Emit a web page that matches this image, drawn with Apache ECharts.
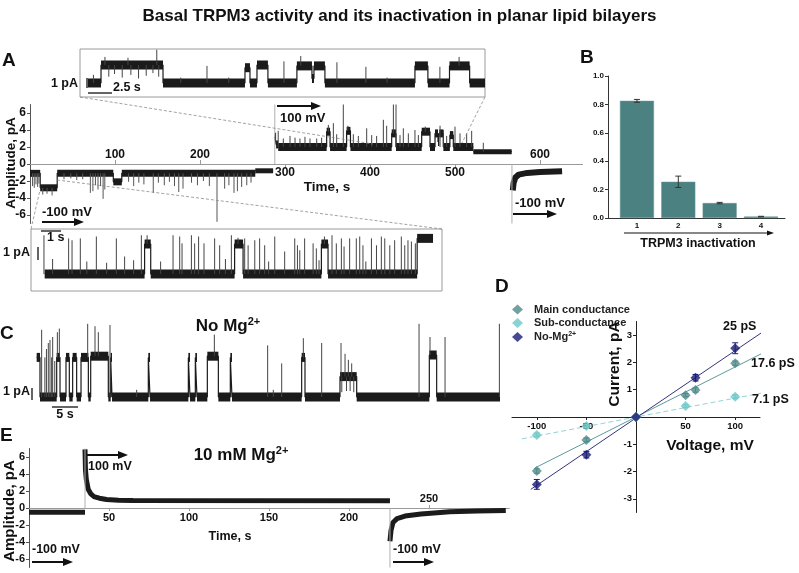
<!DOCTYPE html>
<html><head><meta charset="utf-8">
<script src="https://cdn.jsdelivr.net/npm/echarts@6/dist/echarts.min.js"></script>
<style>html,body{margin:0;padding:0;background:#fff}#c{width:799px;height:573px}</style>
</head><body><div id="c"></div>
<script>
// ================= DATA =================
// Panel A – main recording (time s, current pA)
const aTicksBelow = [300, 400, 500];
const aTicksAbove = [100, 200, 600];
const aYTicks = [-6, -4, -2, 0, 2, 4, 6];
const aNegSteps = [[0,-1.1],[12,-2.8],[32,-1.1],[98,-2.1],[108,-1.1],[265,-1.1]];
const aNegQuietSteps = [[265,-0.8],[286,-0.8]];
const aNegSpikes = [
 [3,-1.1,-2.6],[5,-1.1,-2.8],[7,-1.1,-2.4],[9,-1.1,-2.7],[10.5,-1.1,-2.3],
 [15,-2.8,-3.6],[20,-2.8,-3.5],[26,-2.8,-3.7],
 [40,-1.1,-1.8],[48,-1.1,-1.7],[55,-1.1,-1.9],[62,-1.1,-1.8],
 [71,-1.1,-3.4],[74,-1.1,-3.2],[77,-1.1,-2.5],[80,-1.1,-3.0],[83,-1.1,-2.6],[86,-1.1,-4.1],[88,-1.1,-3.0],
 [116,-1.1,-2.1],[122,-1.1,-2.6],[128,-1.1,-2.2],[134,-1.1,-2.4],[145,-1.1,-3.4],
 [151,-1.1,-2.2],[158,-1.1,-2.5],[164,-1.1,-2.1],[170,-1.1,-2.6],[175,-1.1,-3.3],[180,-1.1,-2.9],
 [190,-1.1,-2.2],[197,-1.1,-2.5],[204,-1.1,-2.0],[211,-1.1,-2.6],[220,-1.1,-6.8],
 [229,-1.1,-2.9],[234,-1.1,-2.5],[240,-1.1,-3.4],[244,-1.1,-3.2],[249,-1.1,-2.7],[255,-1.1,-2.5],[260,-1.1,-2.2]
];
const aPosSteps = [[288,3.2],[289.5,2.3],[292,2.0],[349,3.8],[353,2.0],[372.5,3.9],[377,2.0],[425.5,3.6],
 [430.6,2.0],[460.8,3.8],[470.6,2.0],[476.5,3.6],[480,2.6],[481.5,3.6],[486.3,2.0],[494,3.4],[498,2.0],[521.6,2.0]];
const aPosQuietSteps = [[521.6,1.45],[566.7,1.45]];
const aPosSpikes = [
 [292,2.0,3.9],[298,2.0,3.0],[305.9,2.0,3.3],[311.8,2.0,3.1],[317.6,2.0,3.0],[323.5,2.0,3.2],[329.4,2.0,3.0],
 [337.3,2.0,3.0],[343.1,2.0,3.1],[351,3.8,4.6],[356.9,2.0,4.8],[360.8,2.0,3.5],[368.6,2.0,7.0],[374,3.9,4.5],
 [380.4,2.0,3.5],[386.3,2.0,3.3],[396.1,2.0,4.2],[402,2.0,3.4],[407.8,2.0,3.3],[415.7,2.0,5.2],[419.6,2.0,4.5],
 [427.5,3.6,7.0],[430.6,2.0,7.0],[435.3,2.0,3.4],[439.2,2.0,4.2],[445.1,2.0,3.6],[452.9,2.0,4.0],[456.9,2.0,3.4],
 [465,3.8,4.4],[482.4,2.0,4.5],[486.3,2.0,4.0],[490.2,2.0,3.3],[500,2.0,4.4],[505.9,2.0,3.6],[513.7,2.0,3.6],
 [519.6,2.0,3.9],[533.3,1.45,2.5]
];
const aNeg2Curve = [[568,-3.1],[569,-2.2],[571,-1.6],[575,-1.25],[585,-1.05],[600,-0.95],[626,-0.85]];
const aSwitchLines = [[288,0,7],[567,-7,0]];

// Panel A – upper inset (s, pA)
const topSteps = [[0.83,0],[2.19,2.0],[8.65,0],[17.19,1.7],[17.71,0],[18.44,2.0],[19.58,0],[22.6,1.9],[24.17,0.5],
 [24.38,1.9],[25.52,0],[34.9,1.9],[36.25,0],[38.5,1.9],[40.6,0],[42.2,0]];
const topSpikes = [[1.4,0,0.9],[2.6,2,2.9],[3.0,2,0.7],[3.6,2,1.0],[4.4,2,0.6],[5.0,2,2.8],[5.3,2,0.9],[6.1,2,0.5],
 [6.9,2,0.8],[7.6,2,1.1],[8.0,2,3.7],[8.2,2,0.7],[10.5,0,0.6],[13.23,0,1.9],[15.5,0,0.6],[21.25,0,2.4],[23.0,1.9,3.0],
 [26.77,0,2.3],[29.79,0,1.8],[32.0,0,0.6],[37.5,0,1.8],[39.5,1.9,2.9]];

// Panel A – lower inset (s, pA)
const lowSteps = [[0.76,0],[6.31,2.4],[6.65,0],[11.31,2.4],[11.78,0],[16.13,2.4],[16.5,0],[21.45,2.85],[22.33,2.85]];
const lowSpikes = [
 [0.72,0,3.1],[2.09,0,2.85],[2.28,0,2.7],[2.74,0,2.85],[3.63,0,3.0],[4.74,0,2.85],[5.20,0,1.4],[6.13,0,3.1],
 [7.89,0,3.1],[8.26,0,3.0],[8.39,0,2.45],[8.91,0,3.1],[9.09,0,2.45],[9.31,0,3.0],[9.61,0,2.45],[10.20,0,2.85],
 [10.48,0,2.3],[11.13,0,3.1],[11.87,0,2.85],[12.06,0,2.3],[12.43,0,2.7],[12.70,0,2.85],[12.98,0,2.3],[13.54,0,3.0],
 [14.09,0,1.8],[14.65,0,2.85],[14.80,0,2.3],[14.93,0,1.9],[15.20,0,2.85],[15.67,0,2.45],[15.85,0,2.05],
 [16.72,0,3.1],[16.96,0,2.45],[17.24,0,2.85],[17.39,0,2.2],[17.70,0,2.85],[18.07,0,2.85],[18.26,0,3.0],[18.44,0,2.3],
 [18.91,0,2.85],[19.19,0,2.3],[19.46,0,3.0],[19.65,0,2.85],[19.93,0,2.3],[20.20,0,2.7],[20.57,0,3.0],[20.76,0,2.3],
 [20.94,0,2.7],[21.13,0,2.6],[21.35,0,2.45],[6.45,2.4,3.1],[11.5,2.4,2.9],[16.3,2.4,3.0],
 [1.2,0,1.2],[3.1,0,1.0],[4.2,0,0.9],[5.7,0,1.1],[7.2,0,1.0],[10.8,0,1.2],[13.2,0,1.0],[16.0,0,1.1],[18.6,0,1.0]
];

// Panel B – TRPM3 inactivation
const bCats = [1, 2, 3, 4];
const bVals = [0.825, 0.255, 0.105, 0.01];
const bErr = [0.01, 0.04, 0.005, 0.002];
const bYTicks = [0, 0.2, 0.4, 0.6, 0.8, 1.0];

// Panel C – No Mg2+ (s, pA)
const cSteps = [[0.32,3.3],[0.96,0],[4.17,3.3],[4.81,0],[5.96,3.3],[6.6,0],[7.24,3.3],[8.01,0],[8.85,3.3],[10.26,0],
 [10.71,3.4],[14.1,0],[14.55,3.3],[14.81,0],[21.79,3.3],[22.12,0],[29.49,3.3],[29.81,0],[30.83,3.3],[31.15,0],
 [33.14,3.4],[35.26,0],[37.56,3.3],[37.88,0],[51.28,3.3],[51.92,0],[58.65,1.7],[61.86,0],[75.83,3.5],[77.24,0],[89.42,0]];
const cSpikes = [[1.28,0,5.6],[1.9,0,3.3],[2.2,0,4.0],[2.56,0,4.5],[2.88,0,4.75],[3.2,0,3.3],[3.4,0,5.0],[3.8,0,3.0],
 [4.30,3.3,5.4],[4.68,3.3,5.7],[10.13,3.3,6.1],[11.54,3.4,5.9],[12.18,3.4,5.4],[14.42,0,6.0],[19.55,0,0.6],
 [34.49,3.4,5.2],[44.74,0,4.3],[45.83,0,0.6],[47.44,0,2.8],[51.6,3.3,4.9],[55.13,0,4.5],[58.85,1.7,4.5],
 [59.0,1.7,0.4],[59.62,1.7,3.6],[59.9,1.7,0.5],[60.26,1.7,3.1],[60.6,1.7,0.5],[60.9,1.7,2.8],[61.3,1.7,0.4],
 [73.85,0,6.1],[75.96,3.5,5.0],[78.85,0,5.0],[89.3,0,6.1]];

// Panel D – I/V relations (mV, pA)
const mainV = [-100, -50, 0, 50, 60, 100];
const mainI = [-1.98, -0.84, 0, 0.8, 0.99, 1.97];
const mainE = [0.08, 0.07, 0, 0.06, 0.08, 0.08];
const subV = [-100, -50, 0, 50, 100];
const subI = [-0.66, -0.33, 0, 0.40, 0.74];
const subE = [0.07, 0.06, 0, 0.05, 0.07];
const noMgV = [-100, -50, 0, 60, 100];
const noMgI = [-2.47, -1.38, 0, 1.44, 2.52];
const noMgE = [0.18, 0.12, 0, 0.12, 0.2];
const mainFit = [[-102,-1.87],[127,2.33]];
const subFit = [[-115,-0.8],[127,0.88]];
const noMgFit = [[-106,-2.65],[127,3.1]];
const dXTicks = [-100, -50, 50, 100];
const dYTicks = [-3, -2, -1, 1, 2, 3];
const dNames = ['Main conductance', 'Sub-conductance', 'No-Mg2+'];
const dFitLabels = ['25 pS', '17.6 pS', '7.1 pS'];

// Panel E – 10 mM Mg2+ (s, pA)
const eTicksBelow = [50, 100, 150, 200];
const eTicksAbove = [250];
const eYTicks = [-6, -4, -2, 0, 2, 4, 6];
const eNeg1 = [[0,-0.5],[35,-0.5]];
const ePos = [[35,6.9],[35.3,4.5],[35.8,3.4],[37,2.2],[38.5,1.7],[40.5,1.35],[44,1.15],[48.5,1.0],[56,0.92],[65,0.87],[225.6,0.85]];
const eNeg2 = [[225.6,-3.9],[226.3,-2.6],[227.5,-1.7],[230,-1.25],[235,-0.95],[245,-0.7],[263,-0.45],[280,-0.35],[298,-0.3]];
const eSwitchLines = [[35,0,7],[225.6,-7,0]];

// ================= CHART =================
const FONT = "'Liberation Sans', Arial, Helvetica, sans-serif";
const TRACE = '#1b1b1b';
const chart = echarts.init(document.getElementById('c'), null, {renderer: 'canvas'});

const segmentsOf = s => s.slice(0, -1).map((p, i) => [p[0], s[i + 1][0], p[1]]);

function stepSeries(xi, yi, steps, band) {
  return [
    {type: 'line', xAxisIndex: xi, yAxisIndex: yi, data: steps, step: 'end', symbol: 'none', silent: true, z: 3,
     lineStyle: {color: TRACE, width: 1.2}},
    {type: 'custom', xAxisIndex: xi, yAxisIndex: yi, data: segmentsOf(steps), encode: {x: [0, 1], y: 2}, silent: true, z: 3,
     renderItem: (p, api) => {
       const a = api.coord([api.value(0), api.value(2)]), b = api.coord([api.value(1), api.value(2)]);
       return {type: 'rect', shape: {x: a[0], y: a[1] - band / 2, width: Math.max(b[0] - a[0], 0.6), height: band}, style: {fill: TRACE}};
     }}
  ];
}
function vlineSeries(xi, yi, items, color, w, cap) {
  return {type: 'custom', xAxisIndex: xi, yAxisIndex: yi, data: items, encode: {x: 0, y: [1, 2]}, silent: true, z: 4,
    renderItem: (p, api) => {
      const a = api.coord([api.value(0), api.value(1)]), b = api.coord([api.value(0), api.value(2)]);
      const ch = [{type: 'line', shape: {x1: a[0], y1: a[1], x2: b[0], y2: b[1]}, style: {stroke: color, lineWidth: w}}];
      if (cap) {
        ch.push({type: 'line', shape: {x1: a[0] - cap, y1: a[1], x2: a[0] + cap, y2: a[1]}, style: {stroke: color, lineWidth: w}});
        ch.push({type: 'line', shape: {x1: b[0] - cap, y1: b[1], x2: b[0] + cap, y2: b[1]}, style: {stroke: color, lineWidth: w}});
      }
      return {type: 'group', children: ch};
    }};
}
function curveSeries(xi, yi, pts, w) {
  return {type: 'line', xAxisIndex: xi, yAxisIndex: yi, data: pts, symbol: 'none', silent: true, z: 3,
    lineStyle: {color: TRACE, width: w, join: 'round'}};
}

const lblStyle = (size, extra) => Object.assign({fontSize: size, fontWeight: 'bold', color: '#111', fontFamily: FONT}, extra || {});
const hiddenX = (gi, min, max) => ({type: 'value', gridIndex: gi, min, max, show: false, splitLine: {show: false}});
const hiddenY = (gi, min, max) => ({type: 'value', gridIndex: gi, min, max, show: false, splitLine: {show: false}});

const gridBase = {containLabel: false, outerBoundsMode: 'none'};
const grids = [
  Object.assign({left: 30, top: 104.5, width: 552.5, height: 119}, gridBase),                                        // 0 A main
  Object.assign({left: 80, top: 49, width: 405, height: 48, show: true, borderColor: '#9a9a9a', borderWidth: 1, backgroundColor: 'transparent'}, gridBase), // 1 A top inset
  Object.assign({left: 31, top: 229, width: 411, height: 62, show: true, borderColor: '#9a9a9a', borderWidth: 1, backgroundColor: 'transparent'}, gridBase), // 2 A low inset
  Object.assign({left: 608, top: 76, width: 177, height: 142}, gridBase),                                           // 3 B
  Object.assign({left: 35, top: 322, width: 465, height: 88.2}, gridBase),                                          // 4 C
  Object.assign({left: 512, top: 321.5, width: 248, height: 191}, gridBase),                                        // 5 D
  Object.assign({left: 29, top: 448.5, width: 480, height: 119}, gridBase)                                          // 6 E
];

// axes placed on the zero line through offsets (grid edge -> zero line)
const xAxes = [
  // 0,1: A main (zero line 59.5 px inside from both edges)
  {type: 'value', gridIndex: 0, min: 0, max: 650, position: 'bottom', offset: -59.5, splitLine: {show: false},
   axisLine: {onZero: false, lineStyle: {color: '#9a9a9a', width: 1}},
   axisTick: {customValues: aTicksBelow, length: 4, lineStyle: {color: '#9a9a9a'}},
   axisLabel: Object.assign({customValues: aTicksBelow, margin: 3}, lblStyle(12))},
  {type: 'value', gridIndex: 0, min: 0, max: 650, position: 'top', offset: -59.5, splitLine: {show: false},
   axisLine: {onZero: false, lineStyle: {color: '#9a9a9a', width: 1}},
   axisTick: {customValues: aTicksAbove, length: 4, lineStyle: {color: '#9a9a9a'}},
   axisLabel: Object.assign({customValues: aTicksAbove, margin: 3}, lblStyle(12))},
  // 2: top inset, 3: low inset
  hiddenX(1, 0, 42.2),
  hiddenX(2, 0, 22.83),
  // 4: B
  {type: 'value', gridIndex: 3, min: 0.3, max: 4.58, splitLine: {show: false},
   axisLine: {onZero: false, lineStyle: {color: '#333'}}, axisTick: {show: false},
   axisLabel: Object.assign({customValues: bCats, margin: 4}, lblStyle(8))},
  // 5: C
  hiddenX(4, 0, 89.42),
  // 6: D
  {type: 'value', gridIndex: 5, min: -125, max: 125, position: 'bottom', offset: -95.5, splitLine: {show: false},
   axisLine: {onZero: false, lineStyle: {color: '#222'}},
   axisTick: {customValues: dXTicks, length: 3, lineStyle: {color: '#222'}},
   axisLabel: Object.assign({customValues: dXTicks, margin: 4}, lblStyle(9.5))},
  // 7,8: E
  {type: 'value', gridIndex: 6, min: 0, max: 300, position: 'bottom', offset: -59.5, splitLine: {show: false},
   axisLine: {onZero: false, lineStyle: {color: '#9a9a9a'}},
   axisTick: {customValues: eTicksBelow, length: 3, lineStyle: {color: '#9a9a9a'}},
   axisLabel: Object.assign({customValues: eTicksBelow, margin: 4}, lblStyle(11))},
  {type: 'value', gridIndex: 6, min: 0, max: 300, position: 'top', offset: -59.5, splitLine: {show: false},
   axisLine: {onZero: false, lineStyle: {color: '#9a9a9a'}},
   axisTick: {customValues: eTicksAbove, length: 3, lineStyle: {color: '#9a9a9a'}},
   axisLabel: Object.assign({customValues: eTicksAbove, margin: 4}, lblStyle(11))}
];

const yAxes = [
  {type: 'value', gridIndex: 0, min: -7, max: 7, splitLine: {show: false},
   axisLine: {onZero: false, lineStyle: {color: '#555'}},
   axisTick: {customValues: aYTicks, length: 3, lineStyle: {color: '#555'}},
   axisLabel: Object.assign({customValues: aYTicks, margin: 4}, lblStyle(12))},
  hiddenY(1, -1.56, 3.78),
  hiddenY(2, -1.36, 3.6),
  {type: 'value', gridIndex: 3, min: 0, max: 1, splitLine: {show: false},
   axisLine: {show: true, onZero: false, lineStyle: {color: '#333'}},
   axisTick: {show: true, customValues: bYTicks, length: 3, lineStyle: {color: '#333'}},
   axisLabel: Object.assign({customValues: bYTicks, margin: 4, formatter: v => Number(v).toFixed(1)}, lblStyle(8))},
  hiddenY(4, -1.1, 6.25),
  {type: 'value', gridIndex: 5, min: -3.5, max: 3.5, position: 'left', offset: -124, splitLine: {show: false},
   axisLine: {onZero: false, lineStyle: {color: '#222'}},
   axisTick: {customValues: dYTicks, length: 3, lineStyle: {color: '#222'}},
   axisLabel: Object.assign({customValues: dYTicks, margin: 4}, lblStyle(9.5))},
  {type: 'value', gridIndex: 6, min: -7, max: 7, splitLine: {show: false},
   axisLine: {onZero: false, lineStyle: {color: '#555'}},
   axisTick: {customValues: eYTicks, length: 3, lineStyle: {color: '#555'}},
   axisLabel: Object.assign({customValues: eYTicks, margin: 4}, lblStyle(11))}
];

const series = [];
// ---- A main
series.push(vlineSeries(0, 0, aSwitchLines, '#b0b0b0', 1));
series.push(...stepSeries(0, 0, aNegSteps, 7));
series.push(...stepSeries(0, 0, aNegQuietSteps, 5));
series.push(vlineSeries(0, 0, aNegSpikes, '#555', 1));
series.push(...stepSeries(0, 0, aPosSteps, 8));
series.push(...stepSeries(0, 0, aPosQuietSteps, 5));
series.push(vlineSeries(0, 0, aPosSpikes, '#444', 1));
series.push(curveSeries(0, 0, aNeg2Curve, 6));
// ---- A insets
series.push(...stepSeries(2, 1, topSteps, 9));
series.push(vlineSeries(2, 1, topSpikes, '#444', 1));
series.push(...stepSeries(3, 2, lowSteps, 9));
series.push(vlineSeries(3, 2, lowSpikes, '#444', 1));
// ---- B
series.push({type: 'bar', xAxisIndex: 4, yAxisIndex: 3, data: bCats.map((c, i) => [c, bVals[i]]), barWidth: 34,
  itemStyle: {color: '#4b8181', borderColor: '#5f9494', borderWidth: 0.5}, silent: true});
series.push(vlineSeries(4, 3, bCats.map((c, i) => [c, bVals[i] - bErr[i], bVals[i] + bErr[i]]), '#333', 1, 3));
// ---- C
series.push(...stepSeries(5, 4, cSteps, 9));
series.push(vlineSeries(5, 4, cSpikes, '#444', 1));
// ---- D
const dCol = {main: '#4f8a8a', sub: '#6ec8c8', nomg: '#1b1b76'};
series.push({type: 'line', xAxisIndex: 6, yAxisIndex: 5, data: mainFit, symbol: 'none', silent: true, lineStyle: {color: '#5e9a9a', width: 1}, z: 2});
series.push({type: 'line', xAxisIndex: 6, yAxisIndex: 5, data: subFit, symbol: 'none', silent: true, lineStyle: {color: '#92d4d4', width: 1, type: [5, 3]}, z: 2});
series.push({type: 'line', xAxisIndex: 6, yAxisIndex: 5, data: noMgFit, symbol: 'none', silent: true, lineStyle: {color: '#34347e', width: 1}, z: 2});
series.push(vlineSeries(6, 5, mainV.map((v, i) => [v, mainI[i] - mainE[i], mainI[i] + mainE[i]]), dCol.main, 1, 3));
series.push(vlineSeries(6, 5, subV.map((v, i) => [v, subI[i] - subE[i], subI[i] + subE[i]]), dCol.sub, 1, 3));
series.push(vlineSeries(6, 5, noMgV.map((v, i) => [v, noMgI[i] - noMgE[i], noMgI[i] + noMgE[i]]), dCol.nomg, 1, 3));
series.push({name: dNames[0], type: 'scatter', xAxisIndex: 6, yAxisIndex: 5, data: mainV.map((v, i) => [v, mainI[i]]), symbol: 'diamond', symbolSize: 10, itemStyle: {color: dCol.main}, z: 5, silent: true});
series.push({name: dNames[1], type: 'scatter', xAxisIndex: 6, yAxisIndex: 5, data: subV.map((v, i) => [v, subI[i]]), symbol: 'diamond', symbolSize: 10, itemStyle: {color: dCol.sub}, z: 5, silent: true});
series.push({name: dNames[2], type: 'scatter', xAxisIndex: 6, yAxisIndex: 5, data: noMgV.map((v, i) => [v, noMgI[i]]), symbol: 'diamond', symbolSize: 10, itemStyle: {color: dCol.nomg}, z: 6, silent: true});
// ---- E
series.push(vlineSeries(7, 6, eSwitchLines, '#b0b0b0', 1));
series.push(curveSeries(7, 6, eNeg1, 5));
series.push(curveSeries(7, 6, ePos, 5));
series.push(curveSeries(7, 6, eNeg2, 5));

// ================= ANNOTATIONS =================
const G = [];
function T(x, y, text, size, align, extra) {
  G.push({type: 'text', x, y, z: 50, silent: true,
    style: Object.assign({text, fontSize: size, fontWeight: 'bold', fontFamily: FONT, fill: '#111',
      align: align || 'left', verticalAlign: 'middle'}, extra || {})});
}
function TR(x, y, text, size) {
  G.push({type: 'text', x, y, rotation: Math.PI / 2, z: 50, silent: true,
    style: {text, fontSize: size, fontWeight: 'bold', fontFamily: FONT, fill: '#111', align: 'center', verticalAlign: 'middle'}});
}
function L(x1, y1, x2, y2, color, w, dash) {
  G.push({type: 'line', z: 40, silent: true, shape: {x1, y1, x2, y2}, style: {stroke: color || '#111', lineWidth: w || 1, lineDash: dash || null}});
}
function ARROW(x1, y, x2, w, hl, hw) {
  L(x1, y, x2 - hl + 1, y, '#111', w);
  G.push({type: 'polygon', z: 40, silent: true, shape: {points: [[x2, y], [x2 - hl, y - hw], [x2 - hl, y + hw]]}, style: {fill: '#111'}});
}
const supRich = s => ({n: {fontSize: s, fontWeight: 'bold', fontFamily: FONT, fill: '#111'},
  sup: {fontSize: Math.round(s * 0.62), fontWeight: 'bold', fontFamily: FONT, fill: '#111', verticalAlign: 'top', padding: [0, 0, Math.round(s * 0.45), 0]}});

// panel letters
T(2, 61, 'A', 19); T(580, 58, 'B', 19); T(0, 334, 'C', 19); T(495, 287, 'D', 19); T(0, 436, 'E', 19);

// A: axis titles
TR(11, 163, 'Amplitude, pA', 13.5);
T(327, 187, 'Time, s', 13.5, 'center');
// A: inset connectors
L(80, 97, 373, 144, '#8a8a8a', 0.8, [3, 2]);
L(485, 97, 462, 143, '#8a8a8a', 0.8, [3, 2]);
L(31, 229, 40, 190, '#8a8a8a', 0.8, [3, 2]);
L(442, 229, 57, 180, '#8a8a8a', 0.8, [3, 2]);
// A: top inset scale
T(78, 84, '1 pA', 12.5, 'right'); L(87, 78, 87, 88, '#111', 1.3);
L(88, 93, 112, 93, '#111', 1.3); T(113, 88, '2.5 s', 12.5);
// A: lower inset scale
T(30, 253, '1 pA', 12.5, 'right'); L(38, 247, 38, 260, '#111', 1.3);
L(41, 231, 61, 231, '#111', 1.3); T(47, 238, '1 s', 12.5);
// A: voltage labels
ARROW(277, 106, 321, 2, 10, 4); T(280, 118, '100 mV', 13);
T(42, 212, '-100 mV', 13); ARROW(42, 222, 84, 2, 10, 4);
T(515, 203, '-100 mV', 13); ARROW(513, 214, 557, 2, 10, 4);
// B
ARROW(624, 233, 774, 1, 7, 2.5);
T(698, 244, 'TRPM3 inactivation', 12.5, 'center');
// C
T(228, 326, '{n|No Mg}{sup|2+}', 17, 'center', {rich: supRich(17)});
T(30, 392, '1 pA', 12.5, 'right'); L(32, 388, 32, 400, '#111', 1.3);
L(52, 407, 78, 407, '#111', 1.3); T(65, 415, '5 s', 12.5, 'center');
// D
TR(615, 364, 'Current, pA', 15.5);
T(710, 446, 'Voltage, mV', 15.5, 'center');
T(723, 327, dFitLabels[0], 12.5); T(751, 364, dFitLabels[1], 12.5); T(752, 400, dFitLabels[2], 12.5);
// E
TR(9.5, 511, 'Amplitude, pA', 15);
T(241, 455, '{n|10 mM Mg}{sup|2+}', 17, 'center', {rich: supRich(17)});
ARROW(87, 455, 128, 2, 10, 4); T(88, 467, '100 mV', 12.5);
T(32, 550, '-100 mV', 12.5); ARROW(32, 562, 73, 2, 10, 4);
T(393, 550, '-100 mV', 12.5); ARROW(393, 562, 434, 2, 10, 4);
T(230, 537, 'Time, s', 12.5, 'center');

chart.setOption({
  animation: false,
  backgroundColor: '#fff',
  textStyle: {fontFamily: FONT},
  title: {text: 'Basal TRPM3 activity and its inactivation in planar lipid bilayers', left: 'center', top: 3,
    textStyle: {fontSize: 17, fontWeight: 'bold', color: '#111', fontFamily: FONT}},
  legend: {data: dNames, orient: 'vertical', left: 507, top: 299, itemWidth: 11, itemHeight: 10, itemGap: 2.5,
    icon: 'diamond', selectedMode: false,
    formatter: n => n === 'No-Mg2+' ? '{b|No-Mg}{s|2+}' : '{b|' + n + '}',
    textStyle: {fontSize: 11, fontWeight: 'bold', color: '#222', fontFamily: FONT,
      rich: {b: {fontSize: 11, fontWeight: 'bold', fontFamily: FONT, color: '#222', padding: [0, 0, 0, 6]},
             s: {fontSize: 7, fontWeight: 'bold', fontFamily: FONT, color: '#222', verticalAlign: 'top', padding: [0, 0, 5, 0]}}}},
  grid: grids,
  xAxis: xAxes,
  yAxis: yAxes,
  series: series,
  graphic: G
});
</script></body></html>
